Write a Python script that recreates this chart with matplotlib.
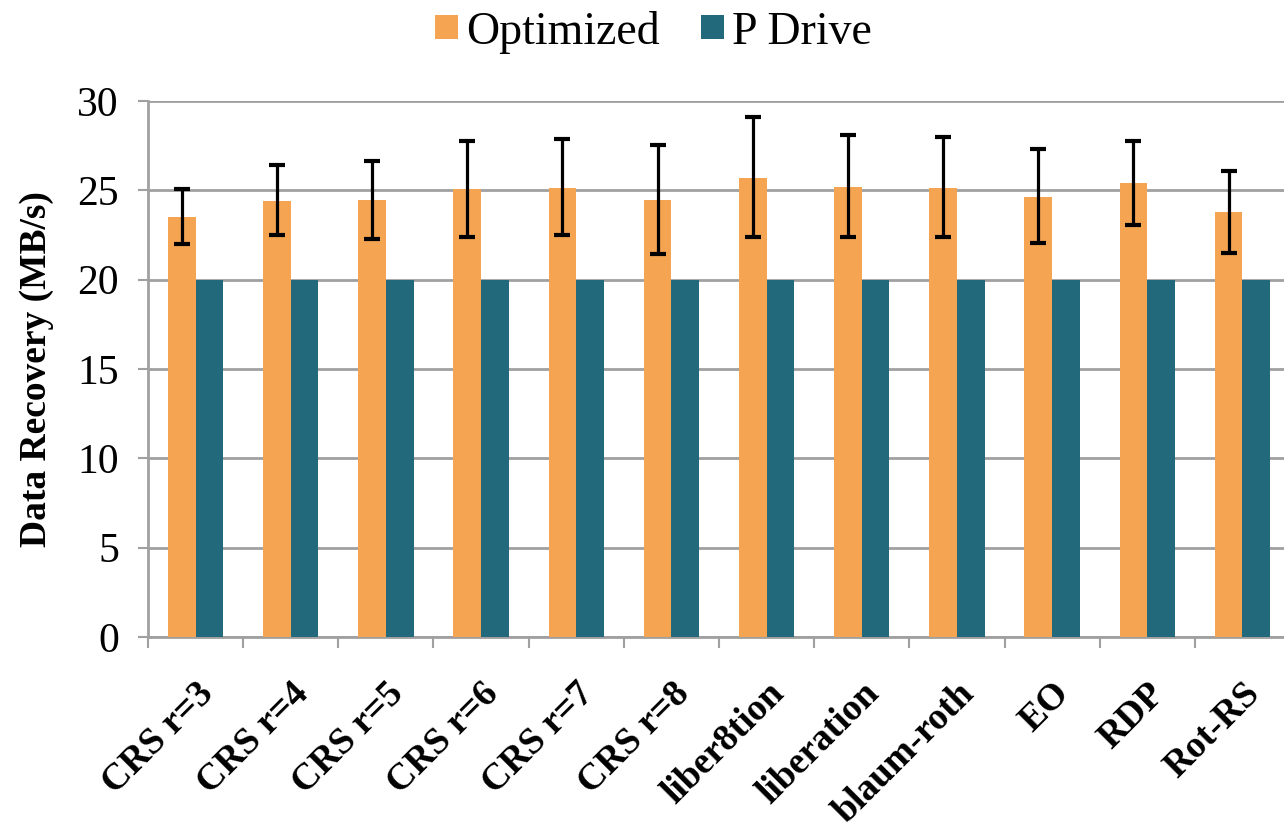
import numpy as np
import matplotlib.pyplot as plt

categories = ["CRS r=3", "CRS r=4", "CRS r=5", "CRS r=6", "CRS r=7", "CRS r=8",
              "liber8tion", "liberation", "blaum-roth", "EO", "RDP", "Rot-RS"]
optimized = [23.5, 24.4, 24.45, 25.05, 25.15, 24.45, 25.7, 25.2, 25.15, 24.65, 25.4, 23.8]
opt_err_low = [1.5, 1.9, 2.2, 2.65, 2.65, 3.0, 3.3, 2.8, 2.75, 2.6, 2.35, 2.3]
opt_err_high = [1.55, 2.0, 2.2, 2.7, 2.7, 3.1, 3.4, 2.9, 2.85, 2.65, 2.35, 2.3]
p_drive = [20, 20, 20, 20, 20, 20, 20, 20, 20, 20, 20, 20]
yticks = [0, 5, 10, 15, 20, 25, 30]

plt.rcParams['font.family'] = ['Liberation Serif', 'DejaVu Serif']

fig = plt.figure(figsize=(12.84, 8.33), dpi=100)
ax = fig.add_axes([148 / 1284, 1 - 637 / 833, (1290 - 148) / 1284, (637 - 101) / 833])

x = np.arange(len(categories))
w = 0.29
ax.bar(x - w / 2, optimized, w, color='#F5A452', label='Optimized', zorder=3,
       yerr=[opt_err_low, opt_err_high],
       error_kw=dict(ecolor='black', elinewidth=2.3, capsize=6, capthick=3, zorder=4))
ax.bar(x + w / 2, p_drive, w, color='#22697B', label='P Drive', zorder=3)

ax.set_xlim(-0.5, len(categories) - 0.5)
ax.set_ylim(0, 30)
ax.set_yticks(yticks)
ax.set_yticklabels([str(v) for v in yticks], fontsize=30)
ax.yaxis.grid(True, color='#A0A0A0', linewidth=2, zorder=0)
ax.set_axisbelow(True)

ax.set_xticks(x)
ax.set_xticklabels(categories, rotation=45, ha='right', rotation_mode='anchor',
                   fontsize=27, fontweight='bold')
ax.tick_params(axis='x', length=0, pad=28)
ax.set_xticks(np.arange(len(categories) + 1) - 0.5, minor=True)
ax.tick_params(axis='x', which='minor', length=8, width=1.5, color='#A0A0A0')
ax.tick_params(axis='y', length=7, width=1.5, color='#A0A0A0', pad=14)

for s in ['top', 'right']:
    ax.spines[s].set_visible(False)
for s in ['left', 'bottom']:
    ax.spines[s].set_color('#A0A0A0')
    ax.spines[s].set_linewidth(2)

ax.set_ylabel('Data Recovery (MB/s)', fontsize=27, fontweight='bold')
ax.yaxis.set_label_coords(-0.082, 0.5)

fig.legend(loc='center', bbox_to_anchor=(0.509, 1 - 32 / 833), ncol=2, frameon=False,
           fontsize=33, handlelength=0.5, handleheight=0.45, handletextpad=0.17,
           columnspacing=0.9, borderpad=0)

fig.savefig('out.png', dpi=100)
